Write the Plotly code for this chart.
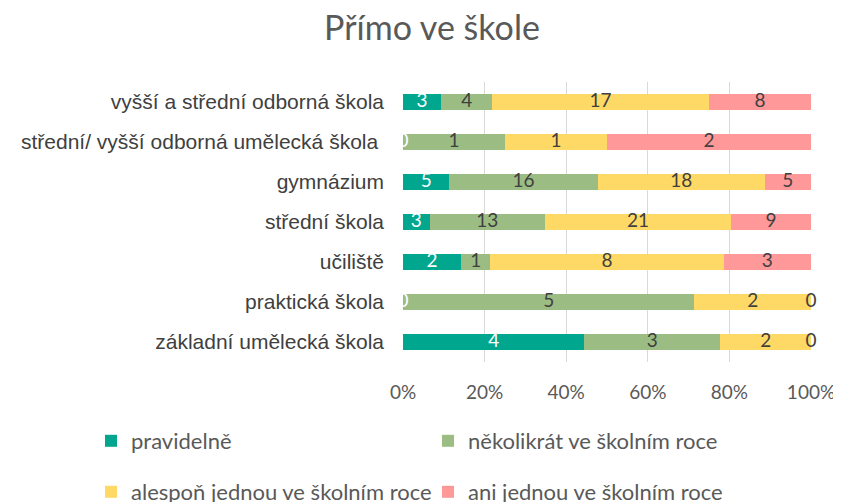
import numpy as np
import plotly.graph_objects as go

categories = [
    "vyšší a střední odborná škola",
    "střední/ vyšší odborná umělecká škola ",
    "gymnázium",
    "střední škola",
    "učiliště",
    "praktická škola",
    "základní umělecká škola",
]
series_names = [
    "pravidelně",
    "několikrát ve školním roce",
    "alespoň jednou ve školním roce",
    "ani jednou ve školním roce",
]
pravidelne = [3, 0, 5, 3, 2, 0, 4]
nekolikrat = [4, 1, 16, 13, 1, 5, 3]
alespon = [17, 1, 18, 21, 8, 2, 2]
ani_jednou = [8, 2, 5, 9, 3, 0, 0]
tick_vals = [0, 20, 40, 60, 80, 100]
tick_text = ["0%", "20%", "40%", "60%", "80%", "100%"]

colors = ["#00A78E", "#9BBD84", "#FFD966", "#FF9999"]
text_colors = ["#FFFFFF", "#404040", "#404040", "#404040"]

series = [pravidelne, nekolikrat, alespon, ani_jednou]
arr = np.array(series, dtype=float)
totals = arr.sum(axis=0)
pct = arr / totals * 100
cum = np.cumsum(pct, axis=0)
mid = cum - pct / 2

fig = go.Figure()
for i, (name, vals) in enumerate(zip(series_names, series)):
    fig.add_trace(go.Bar(
        y=categories, x=vals, name=name, orientation="h",
        marker=dict(color=colors[i], line=dict(width=0)),
        legend="legend" if i < 2 else "legend2",
        hoverinfo="skip",
    ))

for i, vals in enumerate(series):
    fig.add_trace(go.Scatter(
        y=categories, x=mid[i], mode="text", text=[str(v) for v in vals],
        textfont=dict(family="Lato, sans-serif", size=19, color=text_colors[i]),
        textposition="middle center", showlegend=False, hoverinfo="skip",
        cliponaxis=False,
    ))

# page body has an 8px offset, so figure coords = picture coords - 8
OFF = 8
W, H = 841 - OFF, 502 - OFF
PLOT_LEFT, PLOT_RIGHT = 403 - OFF, 811 - OFF
PLOT_TOP, PLOT_BOTTOM = 82 - OFF, 362 - OFF
PW = PLOT_RIGHT - PLOT_LEFT
PH = PLOT_BOTTOM - PLOT_TOP
LEG_X = (83 - PLOT_LEFT) / PW
legend_font = dict(family="Lato, sans-serif", size=22, color="#595959")

fig.update_layout(
    width=W, height=H,
    barmode="stack", barnorm="percent", bargap=0.58,
    paper_bgcolor="white", plot_bgcolor="white",
    margin=dict(l=PLOT_LEFT, r=W - PLOT_RIGHT, t=PLOT_TOP, b=H - PLOT_BOTTOM,
                autoexpand=False),
    title=dict(text="Přímo ve škole", x=(432 - OFF) / W, xanchor="center",
               y=1 - (28 - OFF) / H, yanchor="middle",
               font=dict(family="Lato, sans-serif", size=34, color="#595959")),
    xaxis=dict(range=[0, 100], tickvals=tick_vals, ticktext=tick_text,
               showgrid=True, gridcolor="#D9D9D9", gridwidth=1,
               zeroline=False, showline=False, ticks="",
               ticklabelstandoff=17,
               tickfont=dict(family="Lato, sans-serif", size=19, color="#595959")),
    yaxis=dict(autorange="reversed", showgrid=False, zeroline=False,
               showline=False, ticks="", ticklabelstandoff=18,
               tickfont=dict(family="Liberation Sans", size=21, color="#404040")),
    legend=dict(orientation="h", x=LEG_X, xanchor="left",
                y=-(441 - OFF - PLOT_BOTTOM) / PH, yanchor="middle",
                entrywidth=292, entrywidthmode="pixels", traceorder="normal",
                font=legend_font, bgcolor="rgba(0,0,0,0)"),
    legend2=dict(orientation="h", x=LEG_X, xanchor="left",
                 y=-(492 - OFF - PLOT_BOTTOM) / PH, yanchor="middle",
                 entrywidth=292, entrywidthmode="pixels", traceorder="normal",
                 font=legend_font, bgcolor="rgba(0,0,0,0)"),
    showlegend=True,
)

fig.write_html("out.html")
